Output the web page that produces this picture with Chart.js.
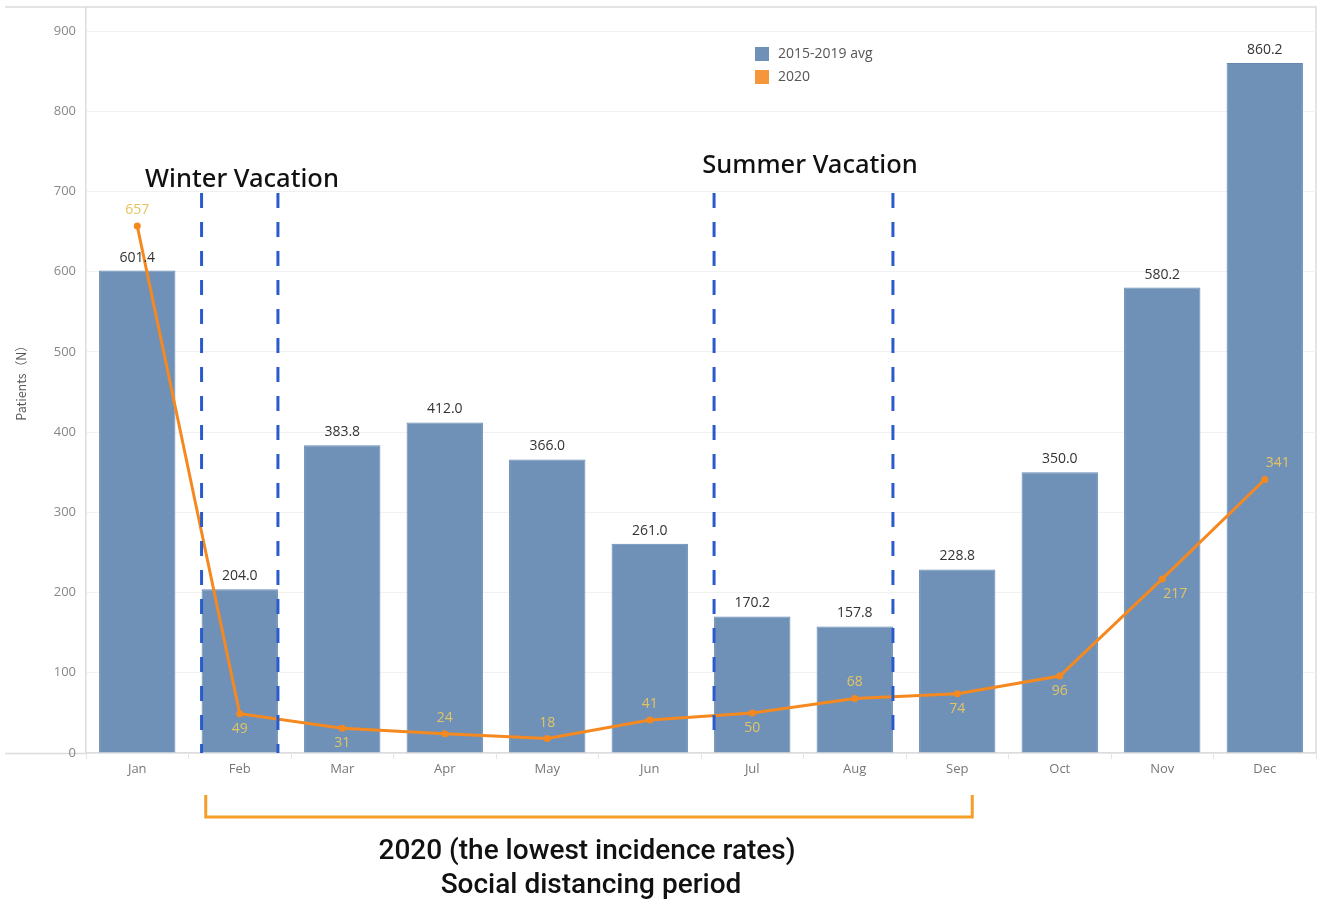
<!DOCTYPE html>
<html>
<head>
<meta charset="utf-8">
<script src="https://cdn.jsdelivr.net/npm/chart.js@4.4.1/dist/chart.umd.min.js"></script>
<style>
  html, body { margin: 0; padding: 0; background: #fff; }
  #wrap { width: 1325px; height: 906px; position: relative; }
</style>
</head>
<body>
<div id="wrap"><canvas id="chart"></canvas></div>
<script>
// ----------------- Data -----------------
const months = ["Jan", "Feb", "Mar", "Apr", "May", "Jun", "Jul", "Aug", "Sep", "Oct", "Nov", "Dec"];
const avg2015to2019 = [601.4, 204.0, 383.8, 412.0, 366.0, 261.0, 170.2, 157.8, 228.8, 350.0, 580.2, 860.2];
const cases2020 = [657, 49, 31, 24, 18, 41, 50, 68, 74, 96, 217, 341];
const yTicks = [0, 100, 200, 300, 400, 500, 600, 700, 800, 900];

// where each 2020 label sits relative to its point
const lineLabelSide = ["above", "below", "below", "above", "above", "above", "below", "above", "below", "below", "belowRight", "aboveRight"];

// vacation bands: first and last month index covered
const vacations = [
  { name: "Winter Vacation", from: 1, to: 1, textX: 242, textY: 180, lineTop: 193, lineBottom: 753 },
  { name: "Summer Vacation", from: 6, to: 7, textX: 810, textY: 166, lineTop: 193, lineBottom: 742 }
];

const BAR_BLUE = "#6f91b8";
const LINE_ORANGE = "#f5891f";
const LABEL_YELLOW = "#e3c463";
const SMALL_FONT = "'Open Sans', 'DejaVu Sans', sans-serif";

// ----------------- Plugins -----------------
const framePlugin = {
  id: "frame",
  beforeDraw(chart) {
    const { ctx, chartArea } = chart;
    ctx.save();
    ctx.strokeStyle = "#dcdcdc";
    ctx.lineWidth = 1.5;
    ctx.beginPath();
    ctx.moveTo(5, chartArea.top);
    ctx.lineTo(chartArea.right, chartArea.top);
    ctx.lineTo(chartArea.right, chartArea.bottom);
    ctx.moveTo(5, chartArea.bottom + 0.5);
    ctx.lineTo(chartArea.left, chartArea.bottom + 0.5);
    ctx.stroke();
    ctx.restore();
  }
};

const annotationPlugin = {
  id: "annotations",
  afterDatasetsDraw(chart) {
    const { ctx } = chart;
    const x = chart.scales.x;
    const barMeta = chart.getDatasetMeta(0);
    const lineMeta = chart.getDatasetMeta(1);

    // bar value labels
    ctx.save();
    ctx.font = "14px " + SMALL_FONT;
    ctx.fillStyle = "#333";
    ctx.textAlign = "center";
    ctx.textBaseline = "middle";
    barMeta.data.forEach((bar, i) => {
      ctx.fillText(avg2015to2019[i].toFixed(1), bar.x, bar.y - 13);
    });

    // 2020 line labels
    ctx.fillStyle = LABEL_YELLOW;
    lineMeta.data.forEach((pt, i) => {
      const side = lineLabelSide[i];
      let dx = 0, dy = side.startsWith("above") ? -16 : 15;
      if (side.endsWith("Right")) dx = 13;
      ctx.fillText(String(cases2020[i]), pt.x + dx, pt.y + dy);
    });

    // vacation dashed lines
    ctx.strokeStyle = "#2a5bcc";
    ctx.lineWidth = 3;
    ctx.setLineDash([15, 14]);
    vacations.forEach(v => {
      const left = barMeta.data[v.from].x - barMeta.data[v.from].width / 2;
      const right = barMeta.data[v.to].x + barMeta.data[v.to].width / 2;
      [left, right].forEach(px => {
        ctx.beginPath();
        ctx.moveTo(px, v.lineTop);
        ctx.lineTo(px, v.lineBottom);
        ctx.stroke();
      });
    });
    ctx.setLineDash([]);

    ctx.fillStyle = "#111";
    ctx.font = "500 25.5px 'Noto Sans', 'Open Sans', sans-serif";
    vacations.forEach(v => ctx.fillText(v.name, v.textX, v.textY));

    // social distancing bracket (Feb .. Sep)
    const bx0 = x.getPixelForValue(1) - 34;
    const bx1 = x.getPixelForValue(8) + 15;
    ctx.strokeStyle = "#f59e2a";
    ctx.lineWidth = 3;
    ctx.beginPath();
    ctx.moveTo(bx0, 795);
    ctx.lineTo(bx0, 817);
    ctx.lineTo(bx1, 817);
    ctx.lineTo(bx1, 795);
    ctx.stroke();

    ctx.fillStyle = "#111";
    ctx.font = "500 28px Roboto, 'Liberation Sans', sans-serif";
    ctx.fillText("2020 (the lowest incidence rates)", 587, 852);
    ctx.fillText("Social distancing period", 591, 886);

    // legend
    ctx.font = "14px " + SMALL_FONT;
    ctx.textAlign = "left";
    chart.data.datasets.forEach((ds, i) => {
      const ly = 47 + i * 23;
      ctx.fillStyle = i === 0 ? BAR_BLUE : "#f5963a";
      ctx.fillRect(755, ly, 14, 14);
      ctx.fillStyle = "#555";
      ctx.fillText(ds.label, 778, ly + 7);
    });
    ctx.restore();
  }
};

// ----------------- Chart -----------------
function renderChart() {
  const ctx = document.getElementById("chart").getContext("2d");
  new Chart(ctx, {
    data: {
      labels: months,
      datasets: [
        {
          type: "bar",
          label: "2015-2019 avg",
          data: avg2015to2019,
          backgroundColor: BAR_BLUE,
          borderColor: "#6388b3",
          borderWidth: 1,
          barPercentage: 0.745,
          categoryPercentage: 1,
          order: 2
        },
        {
          type: "line",
          label: "2020",
          data: cases2020,
          borderColor: LINE_ORANGE,
          backgroundColor: LINE_ORANGE,
          borderWidth: 3,
          pointRadius: 3.5,
          pointBackgroundColor: LINE_ORANGE,
          pointBorderWidth: 0,
          tension: 0,
          order: 1
        }
      ]
    },
    options: {
      responsive: true,
      maintainAspectRatio: false,
      animation: false,
      layout: { padding: { left: 12, right: 9, top: 7, bottom: 113 } },
      plugins: { legend: { display: false }, tooltip: { enabled: false } },
      scales: {
        x: {
          offset: true,
          afterFit(scale) { scale.height = 40; },
          grid: { drawOnChartArea: false, tickLength: 6, color: "#e4e4e4", offset: true },
          border: { color: "#dcdcdc", width: 1.5 },
          ticks: { color: "#777", font: { size: 13, family: SMALL_FONT }, padding: 2 }
        },
        y: {
          min: 0,
          max: 930,
          afterBuildTicks(scale) { scale.ticks = yTicks.map(v => ({ value: v })); },
          afterFit(scale) {
            scale.width = 74;
            scale.paddingTop = 0;
            scale.paddingBottom = 0;
          },
          grid: { color: "#f1f1f1", drawTicks: false },
          border: { color: "#dcdcdc", width: 1.5 },
          ticks: { color: "#888", font: { size: 13, family: SMALL_FONT }, padding: 10 },
          title: { display: true, text: "Patients（N）", color: "#555", font: { size: 12.5, family: "'Noto Sans CJK SC', 'Open Sans', sans-serif" }, padding: { top: 2, bottom: 0 } }
        }
      }
    },
    plugins: [framePlugin, annotationPlugin]
  });
}

window.addEventListener("DOMContentLoaded", renderChart);
</script>
</body>
</html>
